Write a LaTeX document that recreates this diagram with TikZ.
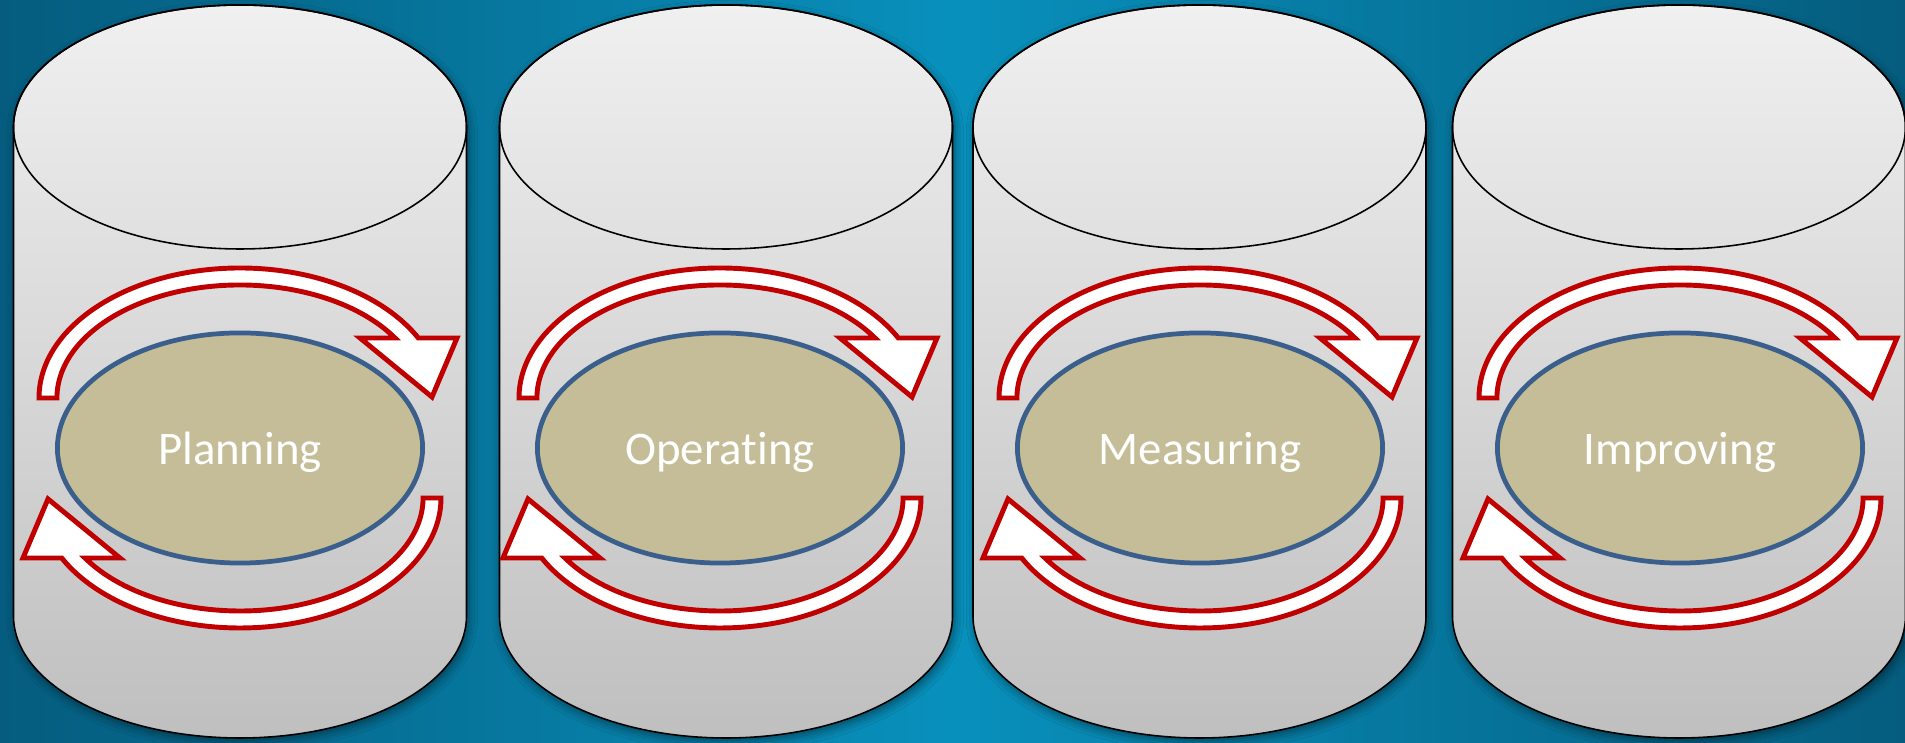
\documentclass[tikz,border=0pt]{standalone}
\usepackage{fontspec}
\setmainfont{Carlito}[Ligatures=NoCommon]
\usetikzlibrary{shapes.geometric,shadows.blur}
\definecolor{bgedge}{HTML}{055C7E}
\definecolor{bgmid}{HTML}{0890BC}
\definecolor{drumtop}{HTML}{F0F0F0}
\definecolor{drumbot}{HTML}{BFBFBF}
\definecolor{stagefill}{HTML}{C4BD97}
\definecolor{stageline}{HTML}{3A5F8D}
\definecolor{arrowred}{HTML}{C00000}

\begin{document}
\begin{tikzpicture}[x=0.01cm,y=0.01cm,
  drum/.style={top color=drumtop,bottom color=drumbot,draw=black,line width=0.45pt,
    blur shadow={shadow xshift=0.6pt,shadow yshift=-1.2pt,shadow blur radius=2.5pt,shadow opacity=45}},
  drumlid/.style={draw=black,line width=0.45pt},
  stage/.style={ellipse,fill=stagefill,draw=stageline,line width=1.35pt,
    minimum width=3.65cm,minimum height=2.30cm,inner sep=0pt},
  cyclearrow/.style={fill=white,draw=arrowred,line width=1.4pt,line join=miter},
  stagelabel/.style={text=white,font=\fontsize{13.3}{16}\selectfont,anchor=base,inner sep=0pt}]

% backdrop
\shade[left color=bgedge,right color=bgedge,middle color=bgmid] (0,0) rectangle (1905,743);
\useasboundingbox (0,0) rectangle (1905,743);

\foreach \cx/\ccx/\lbl/\nm in {240/240/Planning/plan,726/720/Operating/oper,
    1199.5/1200/Measuring/meas,1679/1680/Improving/impr}{
  % drum body with its lid
  \path[drum] (\cx-226.5,616) -- (\cx-226.5,127)
    arc[start angle=180,end angle=360,x radius=226.5,y radius=122]
    -- (\cx+226.5,616)
    arc[start angle=0,end angle=180,x radius=226.5,y radius=122] -- cycle;
  \draw[drumlid] (\cx,616) ellipse [x radius=226.5,y radius=122];
  % the stage in the middle
  \node[stage] (stage-\nm) at (\ccx,295) {};
  \node[stagelabel] (label-\nm) at (\ccx,278) {\lbl};
  % circular arrows, the lower one is the upper one turned half round
  \foreach \turn in {0,180}{
    \begin{scope}[shift={(\ccx,295)},rotate=\turn]
      \path[cyclearrow] (-201,50)
        arc[start angle=180,end angle=27.49,x radius=201,y radius=130]
        -- (217,110) -- (192,51) -- (120,110) -- (155,110)
        arc[start angle=32.07,end angle=180,x radius=183,y radius=113] -- cycle;
    \end{scope}
  }
}
\end{tikzpicture}
\end{document}
